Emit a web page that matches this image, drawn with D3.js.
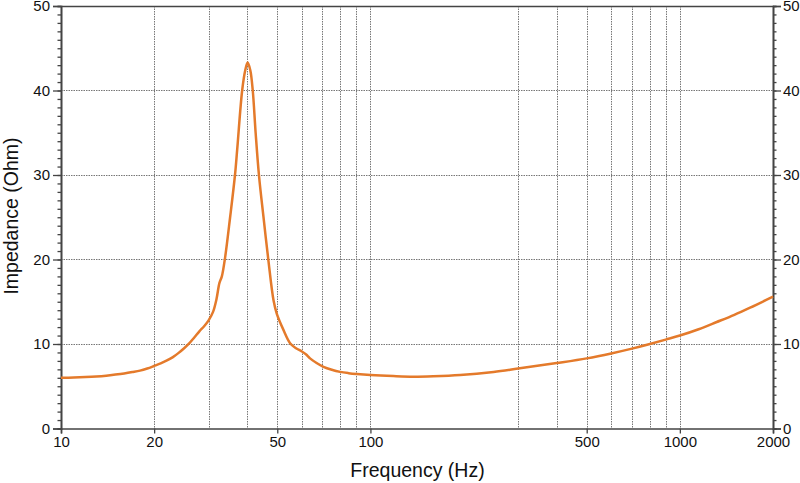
<!DOCTYPE html>
<html><head><meta charset="utf-8">
<script src="https://cdn.jsdelivr.net/npm/d3@7"></script>
<style>body{margin:0;background:#fff}svg{display:block}text{font-family:"Liberation Sans",Arial,Helvetica,sans-serif;fill:#111}</style>
</head><body><svg id="c" width="800" height="483"></svg>
<script>
const freqs = [10,11,12,13,14,15,16,17,18,19,20,21,22,23,24,25,26,27,28,29,30,31,31.8,32.5,33.1,33.9,35.2,36.5,37.1,38.5,39.4,40.1,40.9,41.66,42.56,43.62,45.1,46.8,48.6,49.8,52.3,55,57.5,59.9,62,63.8,67,70.5,75,79.8,85,90.4,100,118.6,137.6,159.7,195,250,300,400,500,600,700,800,900,1000,1150,1316,1500,1687,2000];
const impedance = [6.0,6.03,6.08,6.15,6.25,6.38,6.52,6.68,6.85,7.1,7.4,7.7,8.05,8.45,8.95,9.5,10.1,10.8,11.5,12.1,12.8,13.8,15.3,17.2,18.0,20.2,25.0,30.0,33.0,40.0,42.4,43.3,42.4,40.0,35.0,30.0,25.1,19.9,15.2,13.6,11.7,10.1,9.5,9.15,8.75,8.3,7.75,7.3,6.95,6.7,6.55,6.45,6.33,6.2,6.13,6.18,6.33,6.7,7.1,7.75,8.3,8.88,9.45,10.0,10.52,11.0,11.75,12.6,13.45,14.3,15.6];
const yTicks = [0,10,20,30,40,50];
const xTickLabels = [10,20,50,100,500,1000,2000];
const xGrid = [20,30,40,50,60,70,80,90,100,300,400,500,600,700,800,900,1000];
const yGrid = [10,20,30,40];

const L=61,R=773,T=6,B=428.5;
const svg=d3.select("#c");
const x=d3.scaleLog().domain([10,2000]).range([L,R]);
const y=d3.scaleLinear().domain([0,50]).range([B,T]);

const g=svg.append("g");
g.selectAll(".vg").data(xGrid).join("line").attr("x1",d=>Math.round(x(d))+0.5).attr("x2",d=>Math.round(x(d))+0.5).attr("y1",T).attr("y2",B)
 .attr("stroke","#777").attr("stroke-width",1).attr("stroke-dasharray","1.5,1");
g.selectAll(".hg").data(yGrid).join("line").attr("y1",d=>Math.round(y(d))+0.5).attr("y2",d=>Math.round(y(d))+0.5).attr("x1",L).attr("x2",R)
 .attr("stroke","#777").attr("stroke-width",1).attr("stroke-dasharray","1.5,1");

// axes
const minor=d3.range(0,51,1);
const axL=d3.axisLeft(y).tickValues(minor).tickSize(3.5).tickFormat("");
const axL2=d3.axisLeft(y).tickValues(yTicks).tickSize(8).tickPadding(3);
const axR=d3.axisRight(y).tickValues(minor).tickSize(3.5).tickFormat("");
const axR2=d3.axisRight(y).tickValues(yTicks).tickSize(8).tickPadding(2);
const axB=d3.axisBottom(x).tickValues(xTickLabels).tickSize(5).tickPadding(3).tickFormat(d3.format("d"));
const axT=d3.axisTop(x).tickValues([]).tickSize(0);
function style(s){s.select(".domain").attr("stroke","#444").attr("stroke-width",1.6);
 s.selectAll(".tick line").attr("stroke","#444").attr("stroke-width",1.3);
 s.selectAll("text").attr("font-size",15).attr("fill","#111").attr("font-family",'"Liberation Sans",Arial,sans-serif');}
svg.append("g").attr("transform",`translate(${L},0)`).call(axL).call(style);
svg.append("g").attr("transform",`translate(${L},0)`).call(axL2).call(style);
svg.append("g").attr("transform",`translate(${R},0)`).call(axR).call(style);
svg.append("g").attr("transform",`translate(${R},0)`).call(axR2).call(style);
svg.append("g").attr("transform",`translate(0,${B})`).call(axB).call(style);
svg.append("g").attr("transform",`translate(0,${T})`).call(axT).call(style);

const data=freqs.map((f,i)=>[f,impedance[i]]);
const line=d3.line().x(d=>x(d[0])).y(d=>y(d[1])).curve(d3.curveCatmullRom.alpha(0.5));
svg.append("path").datum(data).attr("d",line).attr("fill","none").attr("stroke","#e47a2b").attr("stroke-width",2.5).attr("stroke-linejoin","round");

svg.append("text").attr("x",417.5).attr("y",477).attr("text-anchor","middle").attr("font-size",19.5).text("Frequency (Hz)");
svg.append("text").attr("transform","translate(18,216) rotate(-90)").attr("text-anchor","middle").attr("font-size",19.5).text("Impedance (Ohm)");
</script></body></html>
